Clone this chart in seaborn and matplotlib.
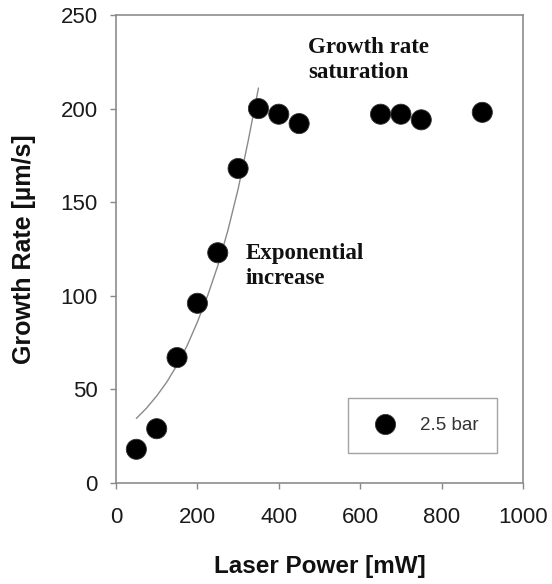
import matplotlib
matplotlib.use("Agg")
import matplotlib.pyplot as plt
import seaborn as sns
import pandas as pd

# measured data (2.5 bar)
laser_power = [50, 100, 150, 200, 250, 300, 350, 400, 450, 650, 700, 750, 900]
growth_rate = [18, 29, 67, 96, 123, 168, 200, 197, 192, 197, 197, 194, 198]

# exponential fit curve samples
fit_power = [50, 75, 100, 125, 150, 175, 200, 225, 250, 275, 300, 325, 350]
fit_rate = [34.5, 40.0, 46.5, 54.0, 63.0, 73.5, 86.0, 100.0, 116.0, 135.0, 157.0, 183.0, 211.0]

x_ticks = [0, 200, 400, 600, 800, 1000]
y_ticks = [0, 50, 100, 150, 200, 250]

sns.set_theme(style="white")
plt.rcParams['font.family'] = ['Liberation Sans', 'DejaVu Sans']

df = pd.DataFrame({"power": laser_power, "rate": growth_rate, "series": "2.5 bar"})
fit = pd.DataFrame({"power": fit_power, "rate": fit_rate})

fig = plt.figure(figsize=(5.52, 5.84), dpi=100)
ax = fig.add_axes([116/552, 1-483/584, (523-116)/552, (483-15)/584])

sns.lineplot(data=fit, x="power", y="rate", ax=ax, color="#8a8a8a", lw=1.0,
             legend=False, sort=True)
sns.scatterplot(data=df, x="power", y="rate", hue="series", palette=["black"],
                s=210, edgecolor="#333333", linewidth=0.6, ax=ax, zorder=3)

ax.set_xlim(0, 1000)
ax.set_ylim(0, 250)
ax.set_xticks(x_ticks)
ax.set_yticks(y_ticks)
ax.set_xticklabels([str(v) for v in x_ticks])
ax.set_yticklabels([str(v) for v in y_ticks])
ax.tick_params(axis='both', which='major', labelsize=16, length=4, width=1,
               color="#888888", labelcolor="#1a1a1a", direction="out",
               bottom=True, left=True)
ax.tick_params(axis='x', pad=13)
ax.tick_params(axis='y', pad=9)
for sp in ax.spines.values():
    sp.set_color("#8c8c8c")
    sp.set_linewidth(1.2)

ax.set_xlabel("Laser Power [mW]", fontsize=17.5, fontweight="bold", color="#111111", labelpad=20)
ax.set_ylabel("Growth Rate [µm/s]", fontsize=18, fontweight="bold", color="#111111", labelpad=18)

serif = ['Liberation Serif', 'DejaVu Serif']
ax.text(472, 238, "Growth rate\nsaturation", fontsize=16.5, fontweight="bold",
        family=serif, ha="left", va="top", linespacing=1.2, color="#111111")
ax.text(318, 128, "Exponential\nincrease", fontsize=16.5, fontweight="bold",
        family=serif, ha="left", va="top", linespacing=1.2, color="#111111")

leg = ax.legend(loc="lower right", bbox_to_anchor=(0.936, 0.064), fontsize=13.5,
                frameon=True, fancybox=False, borderpad=1.0, handletextpad=0.84,
                handlelength=2.0, markerscale=1.0, borderaxespad=0)
leg.get_frame().set_edgecolor("#8c8c8c")
leg.get_frame().set_linewidth(1.0)
for t in leg.get_texts():
    t.set_color("#333333")

fig.savefig("out.png", dpi=100)
